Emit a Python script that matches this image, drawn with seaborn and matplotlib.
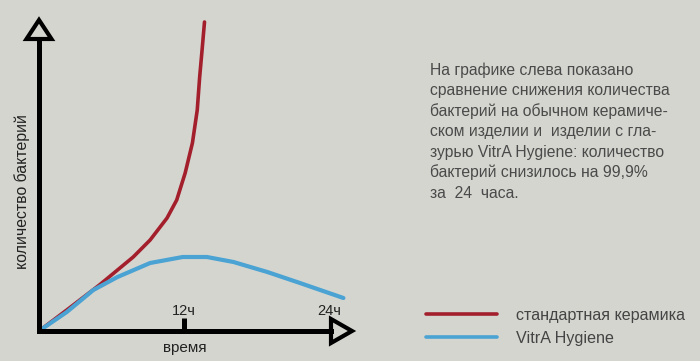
import matplotlib
matplotlib.use("Agg")
import matplotlib.pyplot as plt
from matplotlib.patches import Polygon
import seaborn as sns
import pandas as pd

# ---- data (hours vs. arbitrary bacteria count) ----
std_hours = [0, 2.3, 5.0, 7.8, 9.2, 10.6, 11.4, 12.1, 12.7, 13.1, 13.3, 13.5, 13.7]
std_count = [0, 21, 46, 74, 91, 113, 131, 158, 188, 221, 254, 281, 309]
vit_hours = [0, 2.3, 4.5, 6.5, 9.2, 11.9, 13.9, 16.1, 18.9, 21.6, 25.2]
vit_count = [0, 19, 41, 54, 68, 74, 74, 69, 59, 48, 33]
series_names = ["стандартная керамика", "VitrA Hygiene"]
tick_hours = [12, 24]
tick_labels = ["12ч", "24ч"]
x_label = "время"
y_label = "количество бактерий"
desc_lines = [
    "На графике слева показано",
    "сравнение снижения количества",
    "бактерий на обычном керамиче-",
    "ском изделии и  изделии с гла-",
    "зурью VitrA Hygiene: количество",
    "бактерий снизилось на 99,9%",
    "за  24  часа.",
]

bg = "#d5d5d0"
colors = ["#a31f2c", "#4aa3d3"]

df = pd.concat([
    pd.DataFrame({"hours": std_hours, "count": std_count, "series": series_names[0]}),
    pd.DataFrame({"hours": vit_hours, "count": vit_count, "series": series_names[1]}),
], ignore_index=True)

sns.set_theme(style="white")
plt.rcParams["font.family"] = ["Liberation Sans", "DejaVu Sans"]

W, H = 700, 361
fig = plt.figure(figsize=(7, 3.61), dpi=100, facecolor=bg)
# axes origin at pixel (39, 331), extends to (331, 39)
ox, oy = 39, 331
aw, ah = 292, 292
ax = fig.add_axes([ox / W, (H - oy) / H, aw / W, ah / H])
ax.set_facecolor(bg)

px_per_hour = 12.08
ax.set_xlim(0, aw / px_per_hour)
ax.set_ylim(0, ah)

sns.lineplot(data=df, x="hours", y="count", hue="series", palette=colors,
             ax=ax, sort=False, linewidth=2.6, legend=True)
for ln in ax.get_lines():
    ln.set_clip_on(False)
    ln.set_solid_capstyle("round")
    ln.set_solid_joinstyle("round")
ax.get_lines()[1].set_linewidth(3.0)

for s in ["top", "right"]:
    ax.spines[s].set_visible(False)
for s in ["left", "bottom"]:
    ax.spines[s].set_color("black")
    ax.spines[s].set_linewidth(3.6)

# arrow heads (hollow triangles)
top_tri = Polygon([[-12.5 / aw, 1.0], [12.5 / aw, 1.0], [0, 1 + 19 / ah]], closed=True,
                  transform=ax.transAxes, facecolor=bg, edgecolor="black", lw=3,
                  clip_on=False, joinstyle="miter")
right_tri = Polygon([[1.0, -12 / ah], [1.0, 12 / ah], [1 + 21 / aw, 0]], closed=True,
                    transform=ax.transAxes, facecolor=bg, edgecolor="black", lw=3,
                    clip_on=False, joinstyle="miter")
ax.add_patch(top_tri)
ax.add_patch(right_tri)

# tick at 12h
ax.set_xticks([tick_hours[0]])
ax.set_xticklabels([""])
ax.tick_params(axis="x", direction="in", length=9.5, width=3.6, color="black", bottom=True)
ax.set_yticks([])
for h, lab in zip(tick_hours, tick_labels):
    ax.annotate(lab, xy=(h, 0), xytext=(0, 20), textcoords="offset pixels",
                ha="center", va="center", fontsize=10.5, color="#222222")

ax.set_xlabel(x_label, fontsize=11, color="#222222", labelpad=4)
ax.set_ylabel(y_label, fontsize=11.4, color="#222222", labelpad=5)
ax.yaxis.set_label_coords(-9 / aw, 0.479)

# legend
ax.legend(loc="center left", bbox_to_anchor=(426 / W, (H - 327) / H),
          bbox_transform=fig.transFigure, frameon=False, fontsize=11.6,
          handlelength=4.4, handletextpad=1.2, labelspacing=0.5,
          labelcolor="#444444", borderaxespad=0, borderpad=0)

# description text
for i, line in enumerate(desc_lines):
    fig.text(430 / W, 1 - (70 + 20.5 * i) / H, line, fontsize=11.3, color="#4a4a4a",
             ha="left", va="center")

fig.savefig("out.png", dpi=100, facecolor=bg)
